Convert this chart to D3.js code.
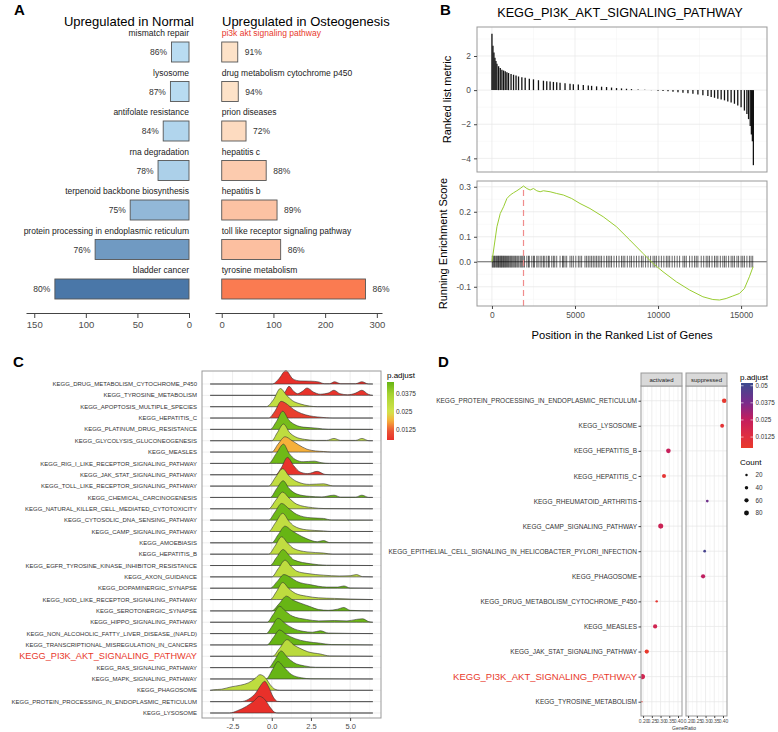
<!DOCTYPE html>
<html>
<head>
<meta charset="utf-8">
<script src="https://cdn.jsdelivr.net/npm/d3@7"></script>
<style>
  body { margin: 0; background: #fff; }
  svg { display: block; font-family: "Liberation Sans", Arial, Helvetica, sans-serif; }
</style>
</head>
<body>
<svg id="fig" width="778" height="732"></svg>
<script>
'use strict';

// ---------- panel A data ----------
const normalTerms = ['mismatch repair', 'lysosome', 'antifolate resistance', 'rna degradation',
  'terpenoid backbone biosynthesis', 'protein processing in endoplasmic reticulum', 'bladder cancer'];
const normalCounts = [17, 18, 25, 30, 57, 91, 130];
const normalPct = ['86%', '87%', '84%', '78%', '75%', '76%', '80%'];
const osteoTerms = ['pi3k akt signaling pathway', 'drug metabolism cytochrome p450', 'prion diseases',
  'hepatitis c', 'hepatitis b', 'toll like receptor signaling pathway', 'tyrosine metabolism'];
const osteoCounts = [31, 32, 47, 86, 107, 114, 278];
const osteoPct = ['91%', '94%', '72%', '88%', '89%', '86%', '86%'];
const normalTicks = [0, 50, 100, 150];
const osteoTicks = [0, 100, 200, 300];

// ---------- panel B data ----------
const gseaTitle = 'KEGG_PI3K_AKT_SIGNALING_PATHWAY';
const rankPos = [0, 60, 120, 180, 240, 300, 400, 500, 600, 700, 800, 900, 1000, 1150, 1300, 1450, 1600, 1800,
  2000, 2250, 2500, 2800, 3100, 3300, 3500, 3700, 3900, 4100, 4400, 4700, 4900, 5200, 5500, 5800, 6000, 6300,
  6600, 6900, 7200, 7500, 7800, 8100, 8400, 8800, 9200, 9600, 10000, 10300, 10600, 10900, 11200, 11500, 11800,
  12100, 12400, 12700, 13000, 13200, 13400, 13600, 13800, 14000, 14200, 14400, 14600, 14800, 15000, 15200,
  15350, 15450, 15550, 15620, 15680, 15740];
const rankVal = [3.3, 2.6, 2.2, 1.9, 1.7, 1.55, 1.4, 1.3, 1.2, 1.15, 1.1, 1.05, 1.0, 0.95, 0.9, 0.85, 0.8, 0.76,
  0.72, 0.67, 0.63, 0.58, 0.55, 0.52, 0.5, 0.48, 0.46, 0.43, 0.4, 0.37, 0.35, 0.33, 0.3, 0.27, 0.25, 0.22,
  0.2, 0.18, 0.15, 0.12, 0.1, 0.08, 0.06, 0.04, 0.02, -0.01, -0.03, -0.05, -0.07, -0.1, -0.12, -0.15, -0.18,
  -0.22, -0.26, -0.3, -0.35, -0.4, -0.45, -0.5, -0.55, -0.6, -0.66, -0.72, -0.8, -0.9, -1.0, -1.2,
  -1.4, -1.7, -2.1, -2.6, -3.0, -4.4];
const esPos = [0, 100, 300, 500, 700, 900, 1100, 1300, 1500, 1700, 1900, 2100, 2300, 2500, 2700, 2900, 3100,
  3500, 3900, 4300, 4800, 5300, 5900, 6700, 7500, 8300, 9100, 9700, 10300, 11100, 11900, 12700, 13300, 13700,
  14100, 14500, 14900, 15200, 15500, 15720];
const esVal = [0, 0.047, 0.14, 0.193, 0.22, 0.253, 0.267, 0.276, 0.284, 0.293, 0.303, 0.293, 0.287, 0.293,
  0.284, 0.28, 0.284, 0.28, 0.273, 0.267, 0.253, 0.233, 0.213, 0.18, 0.14, 0.087, 0.033, -0.007, -0.04, -0.08,
  -0.113, -0.14, -0.151, -0.153, -0.147, -0.137, -0.127, -0.107, -0.06, -0.02];
const hitPos = [20, 60, 110, 150, 200, 260, 300, 350, 390, 430, 480, 530, 560, 600, 650, 700, 740, 790, 830, 880,
  940, 990, 1040, 1100, 1150, 1200, 1260, 1320, 1380, 1430, 1500, 1560, 1620, 1700, 1760, 1820, 1880, 1960,
  2100, 2200, 2250, 2400, 2500, 2560, 2700, 2780, 2900, 3000, 3100, 3180, 3300, 3400, 3450, 3600, 3700, 3780,
  3900, 4100, 4250, 4300, 4400, 4500, 4700, 4800, 4900, 5050, 5200, 5300, 5400, 5600, 5700, 5800, 5900, 6000,
  6100, 6200, 6300, 6400, 6500, 6600, 6750, 6900, 7000, 7100, 7200, 7350, 7500, 7650, 7800, 7900, 8000, 8150,
  8300, 8400, 8550, 8700, 8850, 9000, 9100, 9250, 9400, 9550, 9700, 9800, 9900, 10050, 10200, 10350, 10500,
  10600, 10700, 10850, 11000, 11150, 11300, 11500, 11600, 11700, 11900, 12050, 12200, 12300, 12400, 12600,
  12750, 12900, 13000, 13100, 13250, 13400, 13500, 13600, 13750, 13900, 14000, 14100, 14250, 14400, 14500,
  14600, 14750, 14850, 15000, 15100, 15200, 15350, 15500, 15600, 15700];
const esPeakPos = 1900;
const esPeakVal = 0.303;

// ---------- panel C data ----------
const ridgeTerms = ['KEGG_DRUG_METABOLISM_CYTOCHROME_P450', 'KEGG_TYROSINE_METABOLISM', 'KEGG_APOPTOSIS_MULTIPLE_SPECIES',
  'KEGG_HEPATITIS_C', 'KEGG_PLATINUM_DRUG_RESISTANCE', 'KEGG_GLYCOLYSIS_GLUCONEOGENESIS', 'KEGG_MEASLES',
  'KEGG_RIG_I_LIKE_RECEPTOR_SIGNALING_PATHWAY', 'KEGG_JAK_STAT_SIGNALING_PATHWAY', 'KEGG_TOLL_LIKE_RECEPTOR_SIGNALING_PATHWAY',
  'KEGG_CHEMICAL_CARCINOGENESIS', 'KEGG_NATURAL_KILLER_CELL_MEDIATED_CYTOTOXICITY', 'KEGG_CYTOSOLIC_DNA_SENSING_PATHWAY',
  'KEGG_CAMP_SIGNALING_PATHWAY', 'KEGG_AMOEBIASIS', 'KEGG_HEPATITIS_B', 'KEGG_EGFR_TYROSINE_KINASE_INHIBITOR_RESISTANCE',
  'KEGG_AXON_GUIDANCE', 'KEGG_DOPAMINERGIC_SYNAPSE', 'KEGG_NOD_LIKE_RECEPTOR_SIGNALING_PATHWAY', 'KEGG_SEROTONERGIC_SYNAPSE',
  'KEGG_HIPPO_SIGNALING_PATHWAY', 'KEGG_NON_ALCOHOLIC_FATTY_LIVER_DISEASE_(NAFLD)', 'KEGG_TRANSCRIPTIONAL_MISREGULATION_IN_CANCERS',
  'KEGG_PI3K_AKT_SIGNALING_PATHWAY', 'KEGG_RAS_SIGNALING_PATHWAY', 'KEGG_MAPK_SIGNALING_PATHWAY', 'KEGG_PHAGOSOME',
  'KEGG_PROTEIN_PROCESSING_IN_ENDOPLASMIC_RETICULUM', 'KEGG_LYSOSOME'];
const ridgePadj = [0.005, 0.006, 0.030, 0.008, 0.044, 0.031, 0.019, 0.045, 0.006, 0.030, 0.046, 0.031, 0.045,
  0.030, 0.046, 0.030, 0.045, 0.031, 0.046, 0.031, 0.046, 0.045, 0.046, 0.047, 0.032, 0.046, 0.047, 0.031,
  0.005, 0.005];
// density outline of each ridge: [core enrichment log2FC, height in row units]
const ridgeDensity = [
  [[-3.93, 0], [0.05, 0], [0.45, 0.45], [0.9, 1.18], [1.35, 0.45], [1.8, 0.27], [2.5, 0.25], [3.0, 0.18], [3.35, 0.03], [3.7, 0.03], [4.0, 0.2], [4.4, 0.03], [5.35, 0.03], [5.75, 0.2], [6.15, 0.01], [6.45, 0]],
  [[-3.93, 0], [0.6, 0], [0.85, 0.3], [1.1, 0.8], [1.4, 0.35], [1.65, 0.15], [1.95, 0.35], [2.25, 0.65], [2.65, 0.3], [3.1, 0.1], [3.6, 0.2], [3.97, 0.45], [4.35, 0.15], [4.85, 0.05], [5.35, 0.2], [5.75, 0.45], [6.15, 0.1], [6.45, 0]],
  [[-3.93, 0], [-0.35, 0], [0.1, 0.6], [0.55, 1.6], [0.95, 1.0], [1.3, 0.55], [1.8, 0.25], [2.4, 0.06], [2.9, 0], [6.45, 0]],
  [[-3.93, 0], [-0.2, 0], [0.2, 0.6], [0.6, 1.47], [1.0, 1.2], [1.4, 0.75], [1.9, 0.4], [2.4, 0.2], [2.9, 0.1], [3.5, 0.02], [3.9, 0], [6.45, 0]],
  [[-3.93, 0], [-0.1, 0], [0.3, 0.7], [0.7, 1.6], [1.1, 0.8], [1.5, 0.4], [2.0, 0.2], [2.5, 0.15], [2.9, 0.1], [3.6, 0.01], [6.45, 0]],
  [[-3.93, 0], [0.0, 0], [0.35, 0.7], [0.75, 1.47], [1.15, 0.7], [1.5, 0.35], [2.1, 0.12], [2.8, 0.03], [3.5, 0.03], [3.97, 0.2], [4.4, 0.03], [5.35, 0.03], [5.75, 0.2], [6.2, 0], [6.45, 0]],
  [[-3.93, 0], [0.0, 0], [0.4, 0.7], [0.85, 1.35], [1.3, 1.0], [1.7, 0.65], [2.25, 0.25], [2.8, 0.1], [3.3, 0.05], [3.8, 0], [6.45, 0]],
  [[-3.93, 0], [-0.2, 0], [0.3, 0.9], [0.75, 1.7], [1.1, 0.9], [1.5, 0.35], [2.0, 0.15], [2.7, 0.2], [3.2, 0.05], [3.7, 0], [6.45, 0]],
  [[-3.93, 0], [0.25, 0], [0.6, 0.6], [1.0, 1.53], [1.4, 0.8], [1.8, 0.25], [2.3, 0.1], [2.9, 0.3], [3.4, 0.03], [3.8, 0], [6.45, 0]],
  [[-3.93, 0], [-0.2, 0], [0.25, 0.8], [0.7, 1.53], [1.1, 0.9], [1.6, 0.4], [2.4, 0.15], [3.3, 0.2], [3.9, 0.02], [6.45, 0]],
  [[-3.93, 0], [-0.1, 0], [0.3, 0.75], [0.73, 1.47], [1.1, 0.8], [1.6, 0.3], [2.4, 0.1], [3.2, 0.05], [3.97, 0.2], [4.4, 0.03], [5.35, 0.03], [5.75, 0.2], [6.2, 0], [6.45, 0]],
  [[-3.93, 0], [-0.2, 0], [0.25, 0.75], [0.7, 1.47], [1.1, 0.95], [1.6, 0.4], [2.6, 0.1], [3.4, 0.02], [6.45, 0]],
  [[-3.93, 0], [-0.2, 0], [0.2, 0.7], [0.63, 1.47], [1.1, 1.0], [1.6, 0.5], [2.5, 0.2], [3.3, 0.15], [3.8, 0.01], [6.45, 0]],
  [[-3.93, 0], [-0.2, 0], [0.25, 0.8], [0.7, 1.6], [1.1, 0.9], [1.4, 0.5], [2.2, 0.15], [3.3, 0.05], [3.8, 0], [6.45, 0]],
  [[-3.93, 0], [0.0, 0], [0.4, 0.7], [0.85, 1.47], [1.25, 1.1], [1.6, 0.8], [2.25, 0.35], [2.9, 0.1], [3.3, 0.2], [3.7, 0.02], [6.45, 0]],
  [[-3.93, 0], [-0.2, 0], [0.2, 0.7], [0.63, 1.53], [1.0, 1.0], [1.4, 0.5], [2.25, 0.2], [3.3, 0.1], [3.9, 0], [6.45, 0]],
  [[-3.93, 0], [-0.1, 0], [0.3, 0.7], [0.73, 1.41], [1.1, 0.9], [1.4, 0.5], [2.5, 0.15], [3.5, 0.03], [6.45, 0]],
  [[-3.93, 0], [0.0, 0], [0.4, 0.7], [0.85, 1.47], [1.25, 0.9], [1.6, 0.5], [2.25, 0.3], [3.3, 0.15], [4.3, 0.08], [5.0, 0.1], [5.4, 0.2], [5.8, 0.02], [6.45, 0]],
  [[-3.93, 0], [-0.1, 0], [0.35, 0.6], [0.78, 1.2], [1.2, 0.95], [1.6, 0.6], [2.5, 0.3], [3.5, 0.1], [4.2, 0.1], [4.6, 0.2], [5.0, 0.02], [6.45, 0]],
  [[-3.93, 0], [-0.1, 0], [0.3, 0.7], [0.7, 1.5], [1.1, 0.95], [1.5, 0.55], [2.2, 0.3], [3.0, 0.15], [4.0, 0.1], [5.0, 0.05], [6.45, 0]],
  [[-3.93, 0], [0.0, 0], [0.45, 0.6], [0.94, 1.3], [1.35, 0.95], [1.8, 0.7], [2.4, 0.4], [3.0, 0.12], [3.6, 0.05], [4.2, 0.15], [4.6, 0.3], [5.0, 0.05], [6.45, 0]],
  [[-3.93, 0], [-0.3, 0], [0.1, 0.7], [0.5, 1.41], [0.9, 0.95], [1.3, 0.55], [2.2, 0.25], [3.0, 0.12], [4.0, 0.15], [4.8, 0.12], [5.4, 0.25], [5.8, 0.3], [6.2, 0.05], [6.45, 0]],
  [[-3.93, 0], [-0.35, 0], [0.0, 0.6], [0.4, 1.35], [0.85, 0.9], [1.3, 0.5], [2.0, 0.2], [2.6, 0.12], [3.1, 0.25], [3.6, 0.05], [6.45, 0]],
  [[-3.93, 0], [-0.3, 0], [0.1, 0.65], [0.5, 1.32], [0.95, 0.9], [1.5, 0.55], [2.2, 0.3], [3.1, 0.15], [3.8, 0.03], [6.45, 0]],
  [[-3.93, 0], [0.05, 0], [0.5, 0.7], [0.98, 1.47], [1.4, 1.0], [1.8, 0.7], [2.3, 0.4], [3.1, 0.2], [3.7, 0.03], [6.45, 0]],
  [[-3.93, 0], [-0.2, 0], [0.2, 0.7], [0.6, 1.47], [1.0, 0.9], [1.4, 0.45], [2.1, 0.15], [2.8, 0.03], [6.45, 0]],
  [[-3.93, 0], [-0.35, 0], [0.0, 0.7], [0.4, 1.53], [0.8, 1.0], [1.25, 0.4], [1.9, 0.1], [2.5, 0.02], [6.45, 0]],
  [[-3.93, 0], [-3.7, 0.05], [-3.2, 0.1], [-2.6, 0.3], [-2.0, 0.45], [-1.5, 0.65], [-1.1, 1.0], [-0.75, 1.38], [-0.4, 1.1], [-0.1, 0.5], [0.2, 0.1], [0.5, 0], [6.45, 0]],
  [[-3.93, 0], [-2.0, 0], [-1.5, 0.2], [-1.0, 0.8], [-0.7, 1.45], [-0.45, 1.8], [-0.2, 1.3], [0.1, 0.4], [0.35, 0.03], [0.6, 0], [6.45, 0]],
  [[-3.93, 0], [-2.7, 0], [-2.2, 0.2], [-1.6, 0.6], [-1.1, 1.1], [-0.8, 1.47], [-0.45, 1.2], [-0.1, 0.5], [0.2, 0.05], [0.4, 0], [6.45, 0]]
];
const ridgeTicks = [-2.5, 0, 2.5, 5];
const ridgeLegendTicks = [0.0125, 0.025, 0.0375];

// ---------- panel D data ----------
const dotTerms = ['KEGG_PROTEIN_PROCESSING_IN_ENDOPLASMIC_RETICULUM', 'KEGG_LYSOSOME', 'KEGG_HEPATITIS_B', 'KEGG_HEPATITIS_C',
  'KEGG_RHEUMATOID_ARTHRITIS', 'KEGG_CAMP_SIGNALING_PATHWAY', 'KEGG_EPITHELIAL_CELL_SIGNALING_IN_HELICOBACTER_PYLORI_INFECTION',
  'KEGG_PHAGOSOME', 'KEGG_DRUG_METABOLISM_CYTOCHROME_P450', 'KEGG_MEASLES', 'KEGG_JAK_STAT_SIGNALING_PATHWAY',
  'KEGG_PI3K_AKT_SIGNALING_PATHWAY', 'KEGG_TYROSINE_METABOLISM'];
const dotGroup = ['suppressed', 'suppressed', 'activated', 'activated', 'suppressed', 'activated', 'suppressed',
  'suppressed', 'activated', 'activated', 'activated', 'activated', 'activated'];
const dotRatio = [0.407, 0.395, 0.345, 0.32, 0.31, 0.301, 0.295, 0.286, 0.278, 0.269, 0.221, 0.196, 0.193];
const dotCount = [70, 50, 70, 55, 25, 85, 25, 60, 20, 60, 60, 90, 8];
const dotPadj = [0.006, 0.009, 0.024, 0.008, 0.04, 0.022, 0.049, 0.026, 0.007, 0.02, 0.005, 0.02, 0.006];
const facets = ['activated', 'suppressed'];
const ratioTicks = [0.2, 0.25, 0.3, 0.35, 0.4];
const padjLegendTicks = [0.0125, 0.025, 0.0375, 0.05];
const countLegend = [20, 40, 60, 80];

const highlight = 'KEGG_PI3K_AKT_SIGNALING_PATHWAY';
const red = '#e8392c';
const svg = d3.select('#fig');
const defs = svg.append('defs');

const panelLetter = (txt, x, y) => svg.append('text')
  .attr('x', x).attr('y', y).attr('font-size', 15).attr('font-weight', 'bold').text(txt);

const styleAxis = (g, size) => {
  g.attr('font-family', null).attr('font-size', size);
  g.selectAll('text').attr('fill', '#4d4d4d');
  g.selectAll('line').attr('stroke', '#444');
  g.select('.domain').attr('stroke', '#444');
};

const grid = (g, x0, x1, y0, y1, xs, ys, color, width) => {
  g.selectAll(null).data(xs).join('line')
    .attr('x1', d => d).attr('x2', d => d).attr('y1', y0).attr('y2', y1)
    .attr('stroke', color).attr('stroke-width', width);
  g.selectAll(null).data(ys).join('line')
    .attr('x1', x0).attr('x2', x1).attr('y1', d => d).attr('y2', d => d)
    .attr('stroke', color).attr('stroke-width', width);
};

const verticalGradient = (id, scale, lo, hi) => {
  const grad = defs.append('linearGradient').attr('id', id)
    .attr('x1', 0).attr('y1', 1).attr('x2', 0).attr('y2', 0);
  d3.range(0, 1.0001, 0.05).forEach(t => {
    grad.append('stop').attr('offset', t).attr('stop-color', scale(lo + (hi - lo) * t));
  });
};

// ================= Panel A =================
const drawPanelA = () => {
  const g = svg.append('g');
  panelLetter('A', 14, 15);
  g.append('text').attr('x', 194).attr('y', 26).attr('text-anchor', 'end').attr('font-size', 13)
    .text('Upregulated in Normal');
  g.append('text').attr('x', 222).attr('y', 26).attr('font-size', 13)
    .text('Upregulated in Osteogenesis');

  const row = d3.scalePoint().domain(d3.range(normalTerms.length)).range([42, 279]);
  const barH = 20;
  const xL = d3.scaleLinear().domain([0, 158]).range([189, 26]);
  const xR = d3.scaleLinear().domain([-13, 310]).range([215, 382]);
  const colL = d3.scaleLinear().domain(d3.extent(normalCounts)).range(['#b9dcf2', '#4a77a8']);
  const colR = d3.scaleLinear().domain(d3.extent(osteoCounts)).range(['#fde2c8', '#fa7b51']);

  const left = g.append('g').selectAll('g').data(normalTerms).join('g');
  left.append('rect')
    .attr('x', (d, i) => xL(normalCounts[i])).attr('y', (d, i) => row(i))
    .attr('width', (d, i) => xL(0) - xL(normalCounts[i])).attr('height', barH)
    .attr('fill', (d, i) => colL(normalCounts[i])).attr('stroke', '#555').attr('stroke-width', 0.9);
  left.append('text').attr('x', xL(0)).attr('y', (d, i) => row(i) - 6)
    .attr('text-anchor', 'end').attr('font-size', 8.5).attr('fill', '#222').text(d => d);
  left.append('text').attr('x', (d, i) => xL(normalCounts[i]) - 4.5).attr('y', (d, i) => row(i) + barH / 2 + 3)
    .attr('text-anchor', 'end').attr('font-size', 8.5).attr('fill', '#333').text((d, i) => normalPct[i]);

  const right = g.append('g').selectAll('g').data(osteoTerms).join('g');
  right.append('rect')
    .attr('x', xR(0)).attr('y', (d, i) => row(i))
    .attr('width', (d, i) => xR(osteoCounts[i]) - xR(0)).attr('height', barH)
    .attr('fill', (d, i) => colR(osteoCounts[i])).attr('stroke', '#555').attr('stroke-width', 0.9);
  right.append('text').attr('x', xR(0)).attr('y', (d, i) => row(i) - 6)
    .attr('font-size', 8.5).attr('fill', (d, i) => i === 0 ? red : '#222').text(d => d);
  right.append('text').attr('x', (d, i) => xR(osteoCounts[i]) + 7).attr('y', (d, i) => row(i) + barH / 2 + 3)
    .attr('font-size', 8.5).attr('fill', '#333').text((d, i) => osteoPct[i]);

  const axL = g.append('g').attr('transform', 'translate(0,313)')
    .call(d3.axisBottom(xL).tickValues(normalTicks).tickSize(5).tickSizeOuter(0));
  styleAxis(axL, 9.5);
  const axR = g.append('g').attr('transform', 'translate(0,313)')
    .call(d3.axisBottom(xR).tickValues(osteoTicks).tickSize(5).tickSizeOuter(0));
  styleAxis(axR, 9.5);
};

// ================= Panel B =================
const drawPanelB = () => {
  const g = svg.append('g');
  panelLetter('B', 440, 15);
  g.append('text').attr('x', 620).attr('y', 17).attr('text-anchor', 'middle').attr('font-size', 12.7)
    .text(gseaTitle);

  const x = d3.scaleLinear().domain([-900, 16560]).range([477, 767]);
  const yTop = d3.scaleLinear().domain([-4.8, 3.7]).range([172, 27]);
  const yBot = d3.scaleLinear().domain([-0.177, 0.323]).range([306, 181]);
  const xMajor = [0, 5000, 10000, 15000];
  const xMinor = [2500, 7500, 12500];

  // top: ranked list metric
  const top = g.append('g');
  grid(top, 477, 767, 27, 172, xMinor.map(x), [-3, -1, 1, 3].map(yTop), '#f3f3f3', 0.5);
  grid(top, 477, 767, 27, 172, xMajor.map(x), [-4, -2, 0, 2].map(yTop), '#e6e6e6', 0.7);
  top.selectAll('line.rank').data(rankPos).join('line').attr('class', 'rank')
    .attr('x1', d => x(d)).attr('x2', d => x(d))
    .attr('y1', yTop(0)).attr('y2', (d, i) => yTop(rankVal[i]))
    .attr('stroke', '#111').attr('stroke-width', 1.3);
  top.append('rect').attr('x', 477).attr('y', 27).attr('width', 290).attr('height', 145)
    .attr('fill', 'none').attr('stroke', '#999');
  const ayTop = top.append('g').attr('transform', 'translate(477,0)')
    .call(d3.axisLeft(yTop).tickValues([-4, -2, 0, 2]).tickFormat(d3.format('d')).tickSize(3).tickSizeOuter(0));
  ayTop.select('.domain').remove();
  styleAxis(ayTop, 8.4);
  top.append('text').attr('transform', 'translate(451,99.5) rotate(-90)').attr('text-anchor', 'middle')
    .attr('font-size', 11).text('Ranked list metric');

  // bottom: running enrichment score
  const bot = g.append('g');
  grid(bot, 477, 767, 181, 306, xMinor.map(x), [-0.15, -0.05, 0.05, 0.15, 0.25].map(yBot), '#f3f3f3', 0.5);
  grid(bot, 477, 767, 181, 306, xMajor.map(x), [-0.1, 0, 0.1, 0.2, 0.3].map(yBot), '#e6e6e6', 0.7);
  bot.append('line').attr('x1', 477).attr('x2', 767).attr('y1', yBot(0)).attr('y2', yBot(0))
    .attr('stroke', '#444').attr('stroke-width', 0.8);
  bot.selectAll('line.hit').data(hitPos).join('line').attr('class', 'hit')
    .attr('x1', d => x(d)).attr('x2', d => x(d))
    .attr('y1', yBot(-0.023)).attr('y2', yBot(0.024))
    .attr('stroke', '#000').attr('stroke-opacity', 0.75).attr('stroke-width', 0.8);
  bot.append('line').attr('x1', x(esPeakPos)).attr('x2', x(esPeakPos))
    .attr('y1', 306).attr('y2', yBot(esPeakVal))
    .attr('stroke', '#f08c8c').attr('stroke-width', 1.2).attr('stroke-dasharray', '6,4');
  const line = d3.line().x(d => x(d[0])).y(d => yBot(d[1]));
  bot.append('path').datum(esPos.map((p, i) => [p, esVal[i]]))
    .attr('d', line).attr('fill', 'none').attr('stroke', '#9acd32').attr('stroke-width', 1);
  bot.append('rect').attr('x', 477).attr('y', 181).attr('width', 290).attr('height', 125)
    .attr('fill', 'none').attr('stroke', '#999');
  const ayBot = bot.append('g').attr('transform', 'translate(477,0)')
    .call(d3.axisLeft(yBot).tickValues([-0.1, 0, 0.1, 0.2, 0.3]).tickFormat(d3.format('.1f')).tickSize(3).tickSizeOuter(0));
  ayBot.select('.domain').remove();
  styleAxis(ayBot, 8.4);
  ayBot.selectAll('text').text(d => d3.format('.1f')(d).replace('−', '-'));
  const axBot = bot.append('g').attr('transform', 'translate(0,306)')
    .call(d3.axisBottom(x).tickValues(xMajor).tickFormat(d3.format('d')).tickSize(3).tickSizeOuter(0));
  axBot.select('.domain').remove();
  styleAxis(axBot, 8.4);
  bot.append('text').attr('transform', 'translate(447,243.5) rotate(-90)').attr('text-anchor', 'middle')
    .attr('font-size', 11).text('Running Enrichment Score');
  bot.append('text').attr('x', 622).attr('y', 339).attr('text-anchor', 'middle')
    .attr('font-size', 11.2).text('Position in the Ranked List of Genes');
};

// ================= Panel C =================
const drawPanelC = () => {
  const g = svg.append('g');
  panelLetter('C', 13, 367);
  const x0 = 202, x1 = 381, y0 = 371, y1 = 718;
  const x = d3.scaleLinear().domain([-4.45, 6.97]).range([x0, x1]);
  const row = d3.scalePoint().domain(ridgeTerms).range([384, 713]);
  const unit = row.step();
  const color = d3.scaleLinear()
    .domain([0.0055, 0.0125, 0.019, 0.025, 0.0375, 0.046])
    .range(['#e8302a', '#ec5a36', '#f6b03a', '#d3e44c', '#a7d331', '#67b514']).clamp(true);

  grid(g, x0, x1, y0, y1, [-3.75, -1.25, 1.25, 3.75, 6.25].map(x), [], '#f3f3f3', 0.5);
  grid(g, x0, x1, y0, y1, ridgeTicks.map(x), ridgeTerms.map(t => row(t)), '#e6e6e6', 0.7);

  const area = d3.area().curve(d3.curveMonotoneX)
    .x(d => x(d[0])).y0(0).y1(d => -d[1] * unit);
  g.selectAll('path.ridge').data(ridgeTerms).join('path').attr('class', 'ridge')
    .attr('transform', d => `translate(0,${row(d)})`)
    .attr('d', (d, i) => area(ridgeDensity[i]))
    .attr('fill', (d, i) => color(ridgePadj[i]))
    .attr('stroke', '#333').attr('stroke-width', 0.6);

  g.append('rect').attr('x', x0).attr('y', y0).attr('width', x1 - x0).attr('height', y1 - y0)
    .attr('fill', 'none').attr('stroke', '#999');

  g.selectAll('text.term').data(ridgeTerms).join('text').attr('class', 'term')
    .attr('x', 197).attr('y', d => row(d)).attr('dy', '0.35em').attr('text-anchor', 'end')
    .attr('font-size', d => d === highlight ? 9.2 : 6)
    .attr('fill', d => d === highlight ? red : '#333')
    .text(d => d);

  const ax = g.append('g').attr('transform', `translate(0,${y1})`)
    .call(d3.axisBottom(x).tickValues(ridgeTicks).tickFormat(d3.format('.1f')).tickSize(3).tickSizeOuter(0));
  ax.select('.domain').remove();
  styleAxis(ax, 7.5);
  ax.selectAll('text').text(d => d3.format('.1f')(d).replace('−', '-'));

  // colour legend
  const lg = g.append('g');
  const ly = d3.scaleLinear().domain([0.0055, 0.046]).range([440, 382]);
  verticalGradient('gradC', color, 0.0055, 0.046);
  lg.append('text').attr('x', 387).attr('y', 378).attr('font-size', 8).text('p.adjust');
  lg.append('rect').attr('x', 387).attr('y', 382).attr('width', 7).attr('height', 58).attr('fill', 'url(#gradC)');
  lg.selectAll('text.tk').data(ridgeLegendTicks).join('text').attr('class', 'tk')
    .attr('x', 396).attr('y', d => ly(d)).attr('dy', '0.35em').attr('font-size', 6.5).attr('fill', '#333')
    .text(d => d);
};

// ================= Panel D =================
const drawPanelD = () => {
  const g = svg.append('g');
  panelLetter('D', 438, 367);
  const y0 = 386, y1 = 716;
  const facetX = { activated: [641, 682], suppressed: [686, 727] };
  const y = d3.scalePoint().domain(dotTerms).range([400.7, 701.7]);
  const r = d3.scaleSqrt().domain([0, 80]).range([0, 2.45]);
  const color = d3.scaleLinear()
    .domain([0.0045, 0.0125, 0.025, 0.0375, 0.052])
    .range(['#e8392a', '#e02f40', '#c51e5c', '#7a2b8c', '#3b4b8e']).clamp(true);
  const rows = dotTerms.map((t, i) => ({ term: t, group: dotGroup[i], ratio: dotRatio[i], count: dotCount[i], padj: dotPadj[i] }));

  facets.forEach(f => {
    const [fx0, fx1] = facetX[f];
    const x = d3.scaleLinear().domain([0.188, 0.423]).range([fx0, fx1]);
    const pg = g.append('g');
    grid(pg, fx0, fx1, y0, y1, [0.225, 0.275, 0.325, 0.375].map(x), [], '#f3f3f3', 0.5);
    grid(pg, fx0, fx1, y0, y1, ratioTicks.map(x), dotTerms.map(t => y(t)), '#e6e6e6', 0.7);
    defs.append('clipPath').attr('id', `clip-${f}`)
      .append('rect').attr('x', fx0).attr('y', y0).attr('width', fx1 - fx0).attr('height', y1 - y0);
    pg.append('g').attr('clip-path', `url(#clip-${f})`)
      .selectAll('circle').data(rows.filter(d => d.group === f)).join('circle')
      .attr('cx', d => x(d.ratio)).attr('cy', d => y(d.term)).attr('r', d => r(d.count))
      .attr('fill', d => color(d.padj));
    pg.append('rect').attr('x', fx0).attr('y', y0).attr('width', fx1 - fx0).attr('height', y1 - y0)
      .attr('fill', 'none').attr('stroke', '#999');
    // strip
    pg.append('rect').attr('x', fx0).attr('y', 373).attr('width', fx1 - fx0).attr('height', 13)
      .attr('fill', '#d9d9d9').attr('stroke', '#999');
    pg.append('text').attr('x', (fx0 + fx1) / 2).attr('y', 379.5).attr('dy', '0.35em')
      .attr('text-anchor', 'middle').attr('font-size', 6).attr('fill', '#1a1a1a').text(f);
    const ax = pg.append('g').attr('transform', `translate(0,${y1})`)
      .call(d3.axisBottom(x).tickValues(ratioTicks).tickFormat(d3.format('.2f')).tickSize(2).tickSizeOuter(0));
    ax.select('.domain').remove();
    styleAxis(ax, 5);
    ax.selectAll('text').attr('y', 3);
  });

  g.append('text').attr('x', 684).attr('y', 730).attr('text-anchor', 'middle').attr('font-size', 5)
    .attr('fill', '#333').text('GeneRatio');

  const ay = g.append('g').attr('transform', 'translate(641,0)')
    .call(d3.axisLeft(y).tickSize(2.5).tickSizeOuter(0));
  ay.select('.domain').remove();
  styleAxis(ay, 6.5);
  ay.selectAll('text').attr('x', -4)
    .attr('font-size', d => d === highlight ? 9.5 : 6.5)
    .attr('fill', d => d === highlight ? red : '#333');

  // legends
  const lg = g.append('g');
  const ly = d3.scaleLinear().domain([0.0045, 0.052]).range([448, 383]);
  verticalGradient('gradD', color, 0.0045, 0.052);
  lg.append('text').attr('x', 740).attr('y', 380).attr('font-size', 8).text('p.adjust');
  lg.append('rect').attr('x', 741).attr('y', 383).attr('width', 12).attr('height', 65).attr('fill', 'url(#gradD)');
  lg.selectAll('line.tk').data(padjLegendTicks).join('line').attr('class', 'tk')
    .attr('x1', 741).attr('x2', 743.5).attr('y1', d => ly(d)).attr('y2', d => ly(d))
    .attr('stroke', '#fff').attr('stroke-width', 0.6);
  lg.selectAll('line.tk2').data(padjLegendTicks).join('line').attr('class', 'tk2')
    .attr('x1', 750.5).attr('x2', 753).attr('y1', d => ly(d)).attr('y2', d => ly(d))
    .attr('stroke', '#fff').attr('stroke-width', 0.6);
  lg.selectAll('text.tk').data(padjLegendTicks).join('text').attr('class', 'tk')
    .attr('x', 755.5).attr('y', d => ly(d)).attr('dy', '0.35em').attr('font-size', 6.3).attr('fill', '#333')
    .text(d => d);
  lg.append('text').attr('x', 740).attr('y', 465).attr('font-size', 8).text('Count');
  const cy = d3.scalePoint().domain(countLegend).range([475, 513]);
  lg.selectAll('circle').data(countLegend).join('circle')
    .attr('cx', 746.5).attr('cy', d => cy(d)).attr('r', d => r(d)).attr('fill', '#111');
  lg.selectAll('text.cnt').data(countLegend).join('text').attr('class', 'cnt')
    .attr('x', 755.5).attr('y', d => cy(d)).attr('dy', '0.35em').attr('font-size', 6.3).attr('fill', '#333')
    .text(d => d);
};

drawPanelA();
drawPanelB();
drawPanelC();
drawPanelD();
</script>
</body>
</html>
